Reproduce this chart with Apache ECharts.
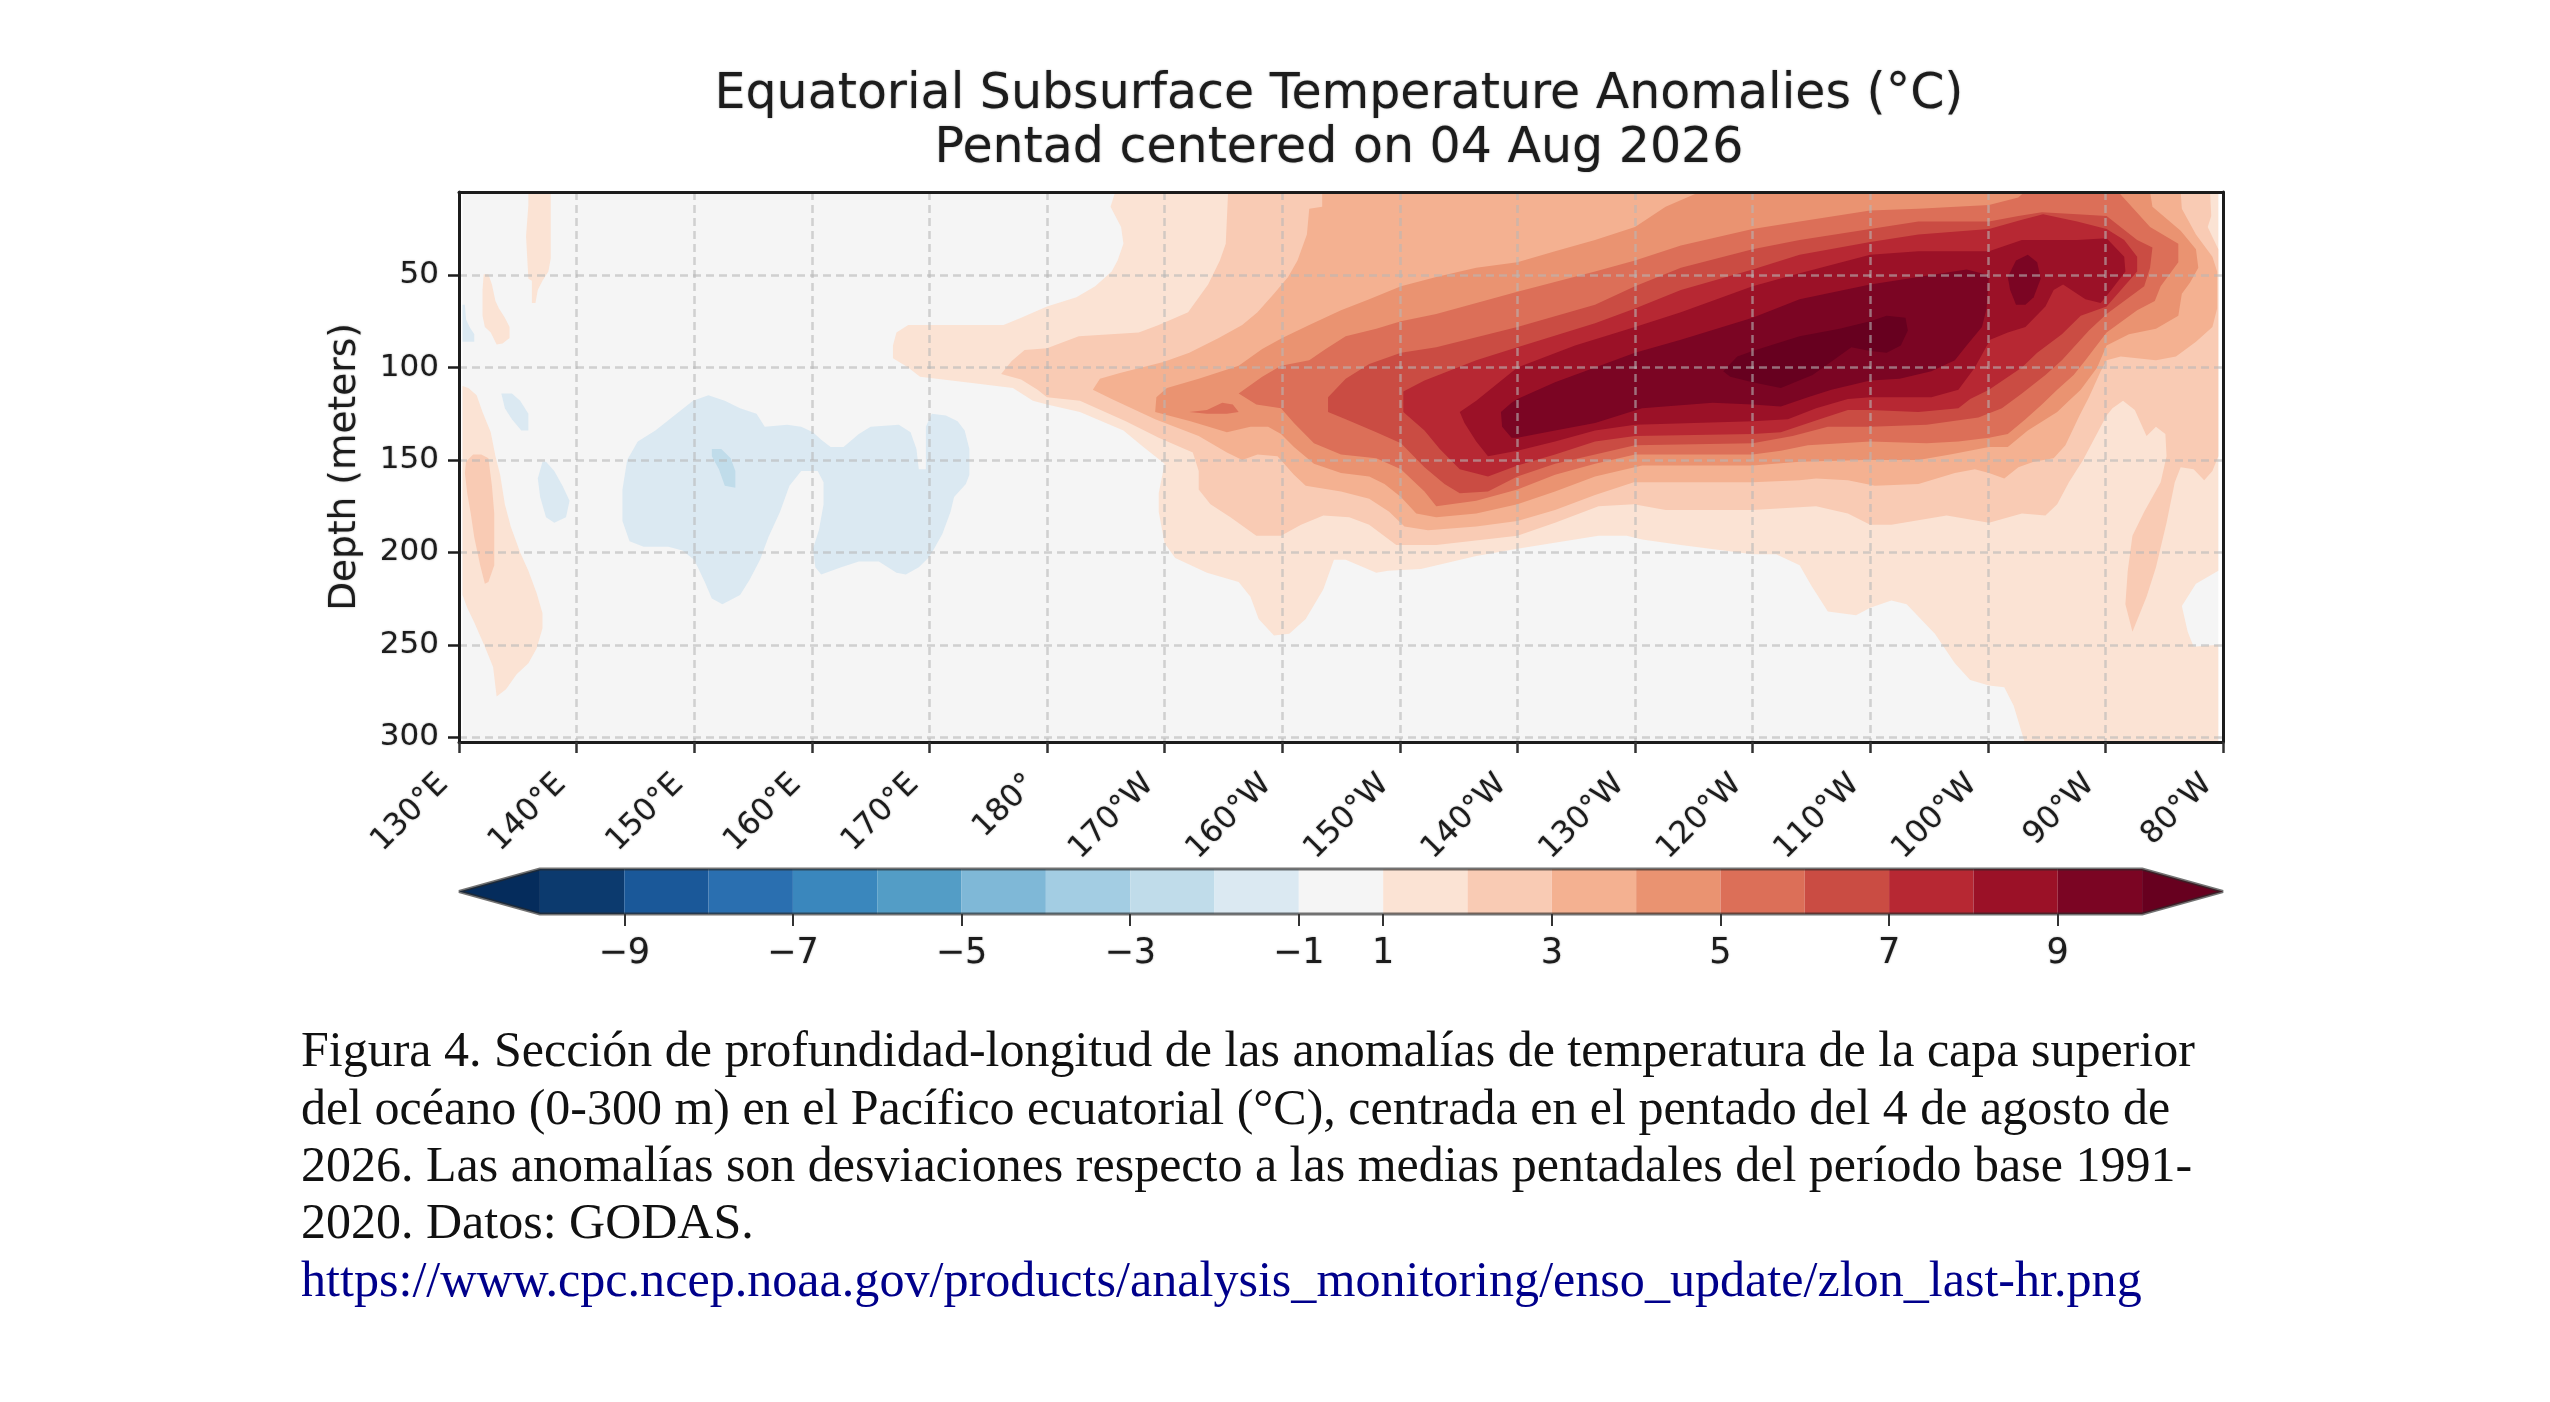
<!DOCTYPE html>
<html><head><meta charset="utf-8">
<style>html,body{margin:0;padding:0;background:#fff}#c{width:2550px;height:1402px}</style>
<script src="https://cdn.jsdelivr.net/npm/echarts@6/dist/echarts.min.js"></script>
</head><body><div id="c"></div>
<script>
const chartTitle = ["Equatorial Subsurface Temperature Anomalies (°C)", "Pentad centered on 04 Aug 2026"];
const yAxisName = "Depth (meters)";
const lonTicks = [130,140,150,160,170,180,190,200,210,220,230,240,250,260,270,280];
const lonLabels = ["130°E","140°E","150°E","160°E","170°E","180°","170°W","160°W","150°W","140°W","130°W","120°W","110°W","100°W","90°W","80°W"];
const depthTicks = [50,100,150,200,250,300];
const captionLines = [
 "Figura 4. Sección de profundidad-longitud de las anomalías de temperatura de la capa superior",
 "del océano (0-300 m) en el Pacífico ecuatorial (°C), centrada en el pentado del 4 de agosto de",
 "2026. Las anomalías son desviaciones respecto a las medias pentadales del período base 1991-",
 "2020. Datos: GODAS."
];
const captionLink = "https://www.cpc.ncep.noaa.gov/products/analysis_monitoring/enso_update/zlon_last-hr.png";

// colour-bar
const bandColors = ["#0c3a6e","#1a5899","#2a6fb0","#3a87bd","#539dc6","#7fb8d7","#a3cde3","#c0dcea","#dbe9f2","#f5f5f5","#fbe3d4","#f9cbb4","#f4b191","#ea9371","#dc6f58","#ca4c43","#b72833","#9b1127","#7b0523"];
const underColor = "#052c5c";
const overColor = "#67001f";
const cbarTickPos = [1,3,5,7,9,10,12,14,16,18];
const cbarTickLabels = ["−9","−7","−5","−3","−1","1","3","5","7","9"];

// contour outlines as [longitude °E, depth m]
const fieldExtent = [[130.3,5],[279.6,5],[279.6,302],[130.3,302]];
const neg1_edge = [[130.3,66],[130.5,66],[130.6,74],[130.9,78],[131.3,82],[131.3,86],[130.3,86]];
const neg1_a = [[133.6,114],[134.5,114],[135.2,118],[135.9,125],[135.9,134],[135.3,134],[134.5,128],[133.9,122]];
const neg1_b = [[137.1,151],[137.4,151],[138.1,156],[138.8,164],[139.4,172],[139.1,181],[138.1,184],[137.4,181],[136.9,170],[136.7,160]];
const neg1_main = [[149.9,118],[151.2,115],[152.6,118],[153.9,122],[155.3,125],[156,132],[157.9,131],[159.1,132],[160.1,135],[160.8,139],[161.6,143],[162.7,143],[164,136],[165,132],[167.4,131],[168.4,135],[168.9,144],[169.1,155],[169.7,155],[169.7,132],[170.2,125],[171.4,126],[172.4,129],[173,134],[173.4,144],[173.4,158],[173.1,163],[172.1,170],[171.8,178],[171.1,190],[170.4,198],[169.9,203],[169.1,208],[168,212],[167.2,211],[165.7,205],[164,205],[162.5,208],[160.8,212],[160.3,208],[160.1,198],[160.6,188],[161,174],[161,162],[160.5,156],[159.1,156],[158.1,164],[157.3,178],[156.3,192],[155.6,204],[154.7,215],[153.9,223],[152.4,228],[151.5,225],[150.9,216],[150,204],[149,199],[147.8,197],[145.7,197],[144.5,194],[143.9,183],[143.9,166],[144.3,150],[145.2,140],[146.7,134],[148.5,125]];
const neg2_main = [[151.5,144],[152.3,144],[153.1,149],[153.5,156],[153.5,165],[152.6,164],[152.1,155],[151.5,148]];

const pos1_top = [[135.9,5],[137.8,5],[137.8,41],[137.6,48],[137.1,53],[136.7,58],[136.5,65],[136.2,65],[136.2,53],[135.9,52],[135.7,29],[135.9,12]];
const pos1_small = [[132,58],[132.1,49.5],[132.5,49.5],[132.8,55],[133.1,64],[133.4,68],[133.9,73],[134.3,78],[134.3,84],[133.7,87],[133.2,87.5],[132.7,81],[132.2,78],[132,72]];
const pos1_west = [[130.3,110],[130.8,111],[131.5,115],[132,124],[132.7,135],[133.1,148],[133.5,158],[133.9,174],[134.4,186],[135.2,200],[135.9,210],[136.6,222],[137.1,233],[137.1,241],[136.6,252],[135.9,260],[134.9,266],[134,274],[133.2,278],[132.9,262],[132.2,251],[131.3,238],[130.7,230],[130.3,223]];
const pos2_west = [[130.6,151],[131.2,147],[131.9,147],[132.5,149],[132.8,164],[133,179],[133,207],[132.5,216],[132.2,217],[131.8,207],[131.3,192],[131,179],[130.7,168],[130.5,157]];
const pos1_main = [[185.8,5],[185.4,13],[186.3,24],[186.5,33],[186,42],[185.5,48],[184.1,56],[182.5,62],[180,67],[177.8,73],[176.3,77],[168.2,77],[167.2,81],[166.9,88],[166.9,95],[168.2,100],[169.2,105],[173.1,108],[177.1,111],[178.8,118],[180,120],[182.8,124],[186.5,134],[188.2,143],[190,152],[189.5,168],[189.5,178],[190,195],[190.9,203],[193.6,211],[196.3,216],[197.3,224],[198,236],[199.3,245],[200.6,244],[202,236],[203.5,220],[204.4,204],[205.4,204],[208,211],[209,210],[211.8,209],[216.5,202],[220,198],[222.9,195],[226.9,191],[229.3,191],[230.6,193],[233.9,196],[240,201],[242,201],[244,207],[245,218],[246.4,232],[248.8,234],[250,230],[251.8,226],[253.1,228],[255.5,244],[257.2,260],[258.5,269],[260.1,272],[261.4,273],[262.2,283],[263.1,302],[279.6,302],[279.6,250],[277.5,251],[277,243],[276.5,229],[277.7,217],[279.6,210],[279.6,5]];
const pos2_main = [[195.4,5],[195.2,33],[194.7,42],[193.7,55],[192,70],[189.5,77],[187.8,81],[182.7,83],[180,89.5],[178.1,90.5],[177,96.5],[176.1,103.5],[177.8,106.5],[179.2,112],[180,116],[182.8,118],[186.7,129],[189.5,138],[192.4,146],[192.9,156],[192.9,166],[193.9,174],[195.6,181],[197.8,191],[199.9,191],[201.6,185],[203.5,180],[205.7,181],[207.4,185],[209.7,196],[213.1,196],[220,191],[223.2,184],[226.9,175],[229.9,174],[232.6,177],[240,177],[245.4,175],[248.1,179],[250,185],[251.8,185],[256.5,180],[260.1,184],[262.9,179],[264.9,180],[265.9,174],[266.9,162],[268.1,150],[270.1,126],[270.6,122],[271.5,118],[272.5,123],[273.5,137],[274.3,132],[275.1,136],[275.2,148],[274.7,162],[273.3,178],[272.3,191],[271.9,210],[271.7,228],[272.3,243],[273.5,224],[274.3,208],[275.2,184],[275.9,162],[276.4,154],[277.5,155],[278.4,161],[279.1,156],[279.6,148],[279.6,36],[278.7,24],[279,18],[278.9,5]];
const pos3_main = [[203.4,5],[203.4,13],[202.3,14],[202.1,28],[201.3,42],[200.5,51],[199.3,60],[197.9,70],[196.6,77],[194.6,84],[192.1,92],[189.9,97],[186.2,103],[184.5,106],[183.9,112],[185.5,117],[189.2,128],[192.9,137],[195.3,146],[196.6,150],[197.9,147],[199.6,148],[201,158],[202,164],[205,167],[207.4,171],[209.1,178],[210.4,186],[212.4,188],[216.5,186],[220,183],[223.2,177],[226.6,169],[229.9,162],[231.9,162],[240,162],[244,161],[245.4,160],[248.1,161],[250.4,164],[254.1,163],[257.2,157],[258.9,155],[260.1,157],[261.4,160],[262.6,154],[263.9,151],[265.6,149],[266.6,142],[267.8,126],[268.6,116],[269.6,102],[270.1,96],[271.3,94],[274.3,96],[276,94],[277.7,86],[279.1,78],[279.5,68],[279.5,48],[279.1,40],[277.7,28],[276.5,14],[276.4,5]];
const pos4_main = [[189.3,116],[190.2,111],[192.9,106],[196.3,99],[198.3,90],[200,84],[202.3,77],[205,69],[207.4,63],[210.1,56],[213.1,51],[216.5,46],[220,43],[223.2,37],[226.6,31],[230,24],[232.6,13],[235.5,5],[273.8,5],[274,13],[276.4,26],[277.7,36],[277.9,46],[277.2,54],[276.5,60],[276.2,72],[274.3,79],[272,82],[270.1,88],[269.3,100],[267.9,112],[266.9,118],[265.9,124],[263.4,134],[261.7,143],[260.1,143],[256.8,147],[254.1,150],[249.4,150],[244,151],[240,153],[230.6,153],[226.6,159],[223.2,167],[220,174],[216.5,179],[213.1,181],[211.4,179],[210.1,170],[208.7,163],[207.4,159],[205,157],[202.7,152],[201,143],[199.9,136],[198.8,132],[197.3,132],[195.3,135],[192.2,129],[189.2,124]];
const pos5_sliver = [[192.1,124],[193.6,123],[194.9,119],[195.8,120],[196.3,124],[195.3,125],[193.6,125]];
const pos5_main = [[196.3,114],[198.3,105],[199.9,99],[202.3,96],[203.7,90],[205.4,83],[208,79],[210.1,75],[213.1,71],[220,59],[226.6,48],[230,42],[233.9,34],[240,25],[244,21],[250,15],[254.1,14],[260.1,12],[262.6,8],[263.1,5],[271.1,5],[273.8,24],[276.2,33],[276.2,43],[274.7,56],[274.2,64],[272.7,69],[270.1,81],[268.3,96],[267.3,104],[265.9,112],[264.6,120],[263.2,128],[261.7,136],[260.1,138],[257.5,140],[254.8,141],[250,140],[244.7,142],[242.4,145],[240,147],[230,147],[226.6,152],[223.2,158],[220,166],[216.5,172],[213.1,175],[212.1,167],[210.1,155],[208,149],[205,147],[202.7,141],[201,130],[199.9,122],[197.8,120]];
const pos6_main = [[203.9,116],[205.4,106],[207.4,98],[210.1,92],[213.1,89],[220,78],[226.6,66],[230,56],[233.9,46],[240,36],[244,31],[250,25],[254.1,21],[260.1,21],[262.6,18],[264.6,16],[267.6,17],[270.1,18],[272.7,31],[274,35],[273.8,46],[273.3,56],[271.6,64],[270.1,71],[268.6,80],[266.3,96],[264.9,104],[262.9,114],[261.2,122],[259.2,127],[254.8,131],[250,132],[246.4,132],[243.4,137],[240,141],[230,142],[226.6,147],[223.2,152],[220,159],[217.5,167],[215.1,168],[213.8,163],[212.1,154],[210.1,141],[208,135],[205.4,128],[203.9,124]];
const pos7_main = [[210.3,113],[212.1,107],[216.5,96],[220,89],[226.6,76],[230,68],[233.9,58],[240,47],[244,39],[250,32],[254.1,28],[260.1,25],[262.9,20],[264.7,17],[267.6,21],[270.1,25],[271.6,31],[272.7,40],[272.7,48],[271.6,56],[270.1,67],[267.9,72],[266.3,82],[264.2,92],[262.9,100],[260.1,112],[258.5,117],[257.5,122],[254.1,124],[250,123],[248.1,123],[245.7,128],[242.4,135],[240,136],[230,137],[226.6,140],[223.2,147],[220,153],[217.5,159],[215.1,155],[213.4,144],[212.1,134],[210.3,124]];
const pos8_main = [[215.1,124],[216.5,118],[220,100],[224.9,88],[230,78],[233.9,70],[240,56],[244,49],[250,39],[254.1,37],[260.1,37],[262.9,31],[264.9,31],[267.6,31],[270.1,30],[271.6,40],[271.7,48],[270.5,58],[269.6,65],[268.3,63],[266.4,55],[265.6,58],[264.9,67],[263.2,78],[261.7,81],[260.2,85],[258.9,100],[257.5,112],[255.2,116],[250,116],[248.1,117],[245.4,122],[243,128],[240,129],[230,131],[226.6,134],[223.2,140],[220,145],[217.5,148],[216.5,140],[215.5,130]];
const pos9_main = [[218.6,124],[219.5,119],[220,117],[223.2,108],[226.6,100],[230,92],[233.9,85],[240,73],[244,63],[250,55],[254.1,51],[258.2,47],[260.1,50],[259.9,68],[259.5,78],[258.2,88],[257.2,96],[255.2,102],[252.5,106],[250,107],[246.7,112],[244.7,116],[242.4,121],[240,120],[236.6,119],[230.6,122],[226.6,130],[223.2,134],[220,138],[219.5,138],[218.7,132]];
const pos9_east = [[263.4,39],[264.2,43],[264.5,52],[263.9,62],[263.2,66],[262.4,66],[261.9,58],[261.7,51],[262.4,42]];
const pos10_main = [[237.5,102],[238.7,94],[240,91],[244,83],[247.4,79],[250,75],[251.4,72],[253,73],[253.2,80],[252.6,88],[251.4,92],[250,91],[248.4,89],[247.1,95],[245.1,104],[242.4,111],[240,108],[238.1,105]];

// paint order: lowest contour first, each entry names its colour-bar band (-1 = over-range)
const shapes = [
 {pts:fieldExtent,band:9},
 {pts:neg1_edge,band:8},{pts:neg1_a,band:8},{pts:neg1_b,band:8},{pts:neg1_main,band:8},{pts:neg2_main,band:7},
 {pts:pos1_top,band:10},{pts:pos1_small,band:10},{pts:pos1_west,band:10},{pts:pos1_main,band:10},
 {pts:pos2_west,band:11},{pts:pos2_main,band:11},
 {pts:pos3_main,band:12},{pts:pos4_main,band:13},
 {pts:pos5_sliver,band:14},{pts:pos5_main,band:14},
 {pts:pos6_main,band:15},{pts:pos7_main,band:16},{pts:pos8_main,band:17},
 {pts:pos9_main,band:18},{pts:pos9_east,band:18},{pts:pos10_main,band:-1}
];

const INK = "#1c1c1c";
const txt = "DejaVu Sans";
const soft = {textShadowColor:'rgba(0,0,0,0.35)',textShadowBlur:2};
const chart = echarts.init(document.getElementById('c'), null, {renderer:'canvas'});
const gridLine = {show:true, lineStyle:{color:'rgba(183,183,183,0.6)', width:2.5, type:[8,5]}};

const cbarShapes = bandColors.map((c,i)=>({pts:[[i,0],[i+1,0],[i+1,1],[i,1]],fill:c}));
cbarShapes.push({pts:[[0,0],[0,1],[-0.96,0.5]],fill:underColor});
cbarShapes.push({pts:[[19,0],[19,1],[19.96,0.5]],fill:overColor});
const cbarOutline = [[0,0],[19,0],[19.96,0.5],[19,1],[0,1],[-0.96,0.5]];

chart.setOption({
 animation:false, backgroundColor:'#fff',
 title:[
  {text:chartTitle[0], left:1334, top:66, textAlign:'center', textStyle:{fontFamily:txt,fontWeight:'normal',fontSize:49,color:INK,...soft}},
  {text:chartTitle[1], left:1334, top:120, textAlign:'center', textStyle:{fontFamily:txt,fontWeight:'normal',fontSize:49,color:INK,...soft}}
 ],
 grid:[
  {left:459,top:192,width:1764,height:550},
  {left:459,top:869,width:1764,height:45}
 ],
 xAxis:[
  {type:'value',gridIndex:0,min:130,max:280,interval:10,z:5,
   axisLine:{show:true,onZero:false,lineStyle:{color:INK,width:3}},
   axisTick:{show:true,length:11,lineStyle:{color:'#333',width:2.5}},
   splitLine:gridLine,
   axisLabel:{rotate:45,margin:22,padding:[0,22,0,0],fontFamily:txt,fontSize:31,color:INK,...soft,
     formatter:v=>lonLabels[lonTicks.indexOf(v)]}},
  {type:'value',gridIndex:0,min:130,max:280,position:'top',z:5,
   axisLine:{show:true,onZero:false,lineStyle:{color:INK,width:3}},axisTick:{show:false},axisLabel:{show:false},splitLine:{show:false}},
  {type:'value',gridIndex:1,min:-0.96,max:19.96,z:5,
   axisLine:{show:false},
   axisTick:{show:true,length:12,customValues:cbarTickPos,lineStyle:{color:'#333',width:2}},
   axisLabel:{customValues:cbarTickPos,margin:22,fontFamily:txt,fontSize:35,color:INK,...soft,
     formatter:v=>cbarTickLabels[cbarTickPos.indexOf(v)]},
   splitLine:{show:false}}
 ],
 yAxis:[
  {type:'value',gridIndex:0,min:5,max:302.6,inverse:true,z:5,
   name:yAxisName,nameLocation:'middle',nameRotate:90,nameGap:95,
   nameTextStyle:{fontFamily:txt,fontSize:37.5,color:INK,...soft},
   axisLine:{show:true,onZero:false,lineStyle:{color:INK,width:3}},
   axisTick:{show:true,length:11,customValues:depthTicks,lineStyle:{color:INK,width:2.5}},
   axisLabel:{customValues:depthTicks,margin:20,padding:[3,0,0,0],fontFamily:txt,fontSize:31,color:INK,...soft},
   splitLine:gridLine},
  {type:'value',gridIndex:0,min:5,max:302.6,inverse:true,position:'right',z:5,
   axisLine:{show:true,onZero:false,lineStyle:{color:INK,width:3}},axisTick:{show:false},axisLabel:{show:false},splitLine:{show:false}},
  {type:'value',gridIndex:1,min:0,max:1,show:false}
 ],
 series:[
  {type:'custom',xAxisIndex:0,yAxisIndex:0,z:2,clip:true,silent:true,
   encode:{x:0,y:1},
   data:shapes.map((s,i)=>[s.pts[0][0],s.pts[0][1],i]),
   renderItem(params,api){
     const s=shapes[api.value(2)];
     return {type:'polygon',shape:{points:s.pts.map(p=>api.coord(p))},
       style:{fill:s.band<0?overColor:bandColors[s.band],stroke:null}};
   }},
  {type:'custom',xAxisIndex:2,yAxisIndex:2,z:2,silent:true,
   encode:{x:0,y:1},
   data:cbarShapes.map((s,i)=>[s.pts[0][0],s.pts[0][1],i]),
   renderItem(params,api){
     const s=cbarShapes[api.value(2)];
     return {type:'polygon',shape:{points:s.pts.map(p=>api.coord(p))},style:{fill:s.fill}};
   }},
  {type:'custom',xAxisIndex:2,yAxisIndex:2,z:3,silent:true,
   encode:{x:0,y:1},
   data:[[0,0]],
   renderItem(params,api){
     return {type:'polygon',shape:{points:cbarOutline.map(p=>api.coord(p))},
       style:{fill:null,stroke:'rgba(40,40,40,0.65)',lineWidth:3,lineJoin:'bevel'}};
   }}
 ],
 graphic:[
  ...captionLines.map((t,i)=>({type:'text',left:301,top:1028+i*57.4,
    style:{text:t,font:'50px "Liberation Serif"',fill:'#111'}})),
  {type:'text',left:301,top:1028+4*57.4,style:{text:captionLink,font:'50.12px "Liberation Serif"',fill:'#00008b'}}
 ]
});
</script></body></html>
